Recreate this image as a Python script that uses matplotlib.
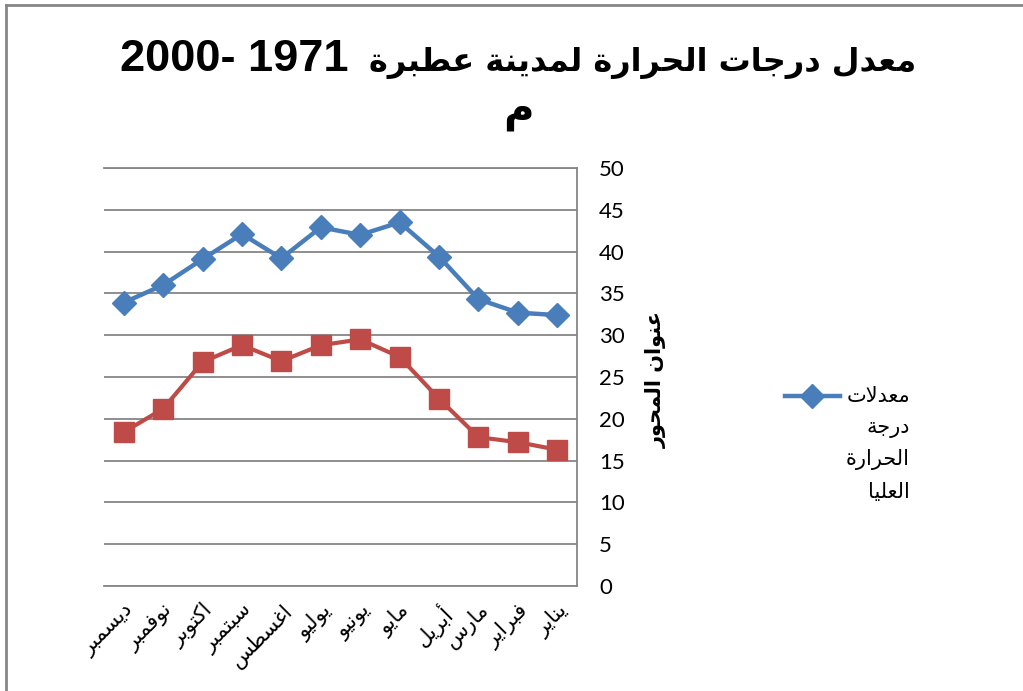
import numpy as np
import matplotlib
matplotlib.use("Agg")
import matplotlib.pyplot as plt
from matplotlib.lines import Line2D

# Data, months in logical order Jan..Dec
months = ["يناير", "فبراير", "مارس", "أبريل", "مايو", "يونيو",
          "يوليو", "اغسطس", "سبتمبر", "اكتوبر", "نوفمبر", "ديسمبر"]
max_temp = [32.4, 32.7, 34.3, 39.4, 43.5, 42.0, 42.9, 39.2, 42.1, 39.1, 36.0, 33.9]
min_temp = [16.3, 17.2, 17.8, 22.4, 27.4, 29.5, 28.8, 26.9, 28.8, 26.8, 21.2, 18.4]
max_label = "معدلات درجة الحرارة العليا"
title_words = "معدل درجات الحرارة لمدينة عطبرة"
title_years = "1971 -2000"
title_tail = "م"
axis_title = "عنوان المحور"
y_ticks = [0, 5, 10, 15, 20, 25, 30, 35, 40, 45, 50]

# --- minimal Arabic shaping (presentation forms) + right-to-left ordering ---
FORMS = {  # isolated, final, initial, medial
    'ا': ('\uFE8D', '\uFE8E', None, None),
    'أ': ('\uFE83', '\uFE84', None, None),
    'ب': ('\uFE8F', '\uFE90', '\uFE91', '\uFE92'),
    'ة': ('\uFE93', '\uFE94', None, None),
    'ت': ('\uFE95', '\uFE96', '\uFE97', '\uFE98'),
    'ج': ('\uFE9D', '\uFE9E', '\uFE9F', '\uFEA0'),
    'ح': ('\uFEA1', '\uFEA2', '\uFEA3', '\uFEA4'),
    'د': ('\uFEA9', '\uFEAA', None, None),
    'ر': ('\uFEAD', '\uFEAE', None, None),
    'س': ('\uFEB1', '\uFEB2', '\uFEB3', '\uFEB4'),
    'ط': ('\uFEC1', '\uFEC2', '\uFEC3', '\uFEC4'),
    'ع': ('\uFEC9', '\uFECA', '\uFECB', '\uFECC'),
    'غ': ('\uFECD', '\uFECE', '\uFECF', '\uFED0'),
    'ف': ('\uFED1', '\uFED2', '\uFED3', '\uFED4'),
    'ك': ('\uFED9', '\uFEDA', '\uFEDB', '\uFEDC'),
    'ل': ('\uFEDD', '\uFEDE', '\uFEDF', '\uFEE0'),
    'م': ('\uFEE1', '\uFEE2', '\uFEE3', '\uFEE4'),
    'ن': ('\uFEE5', '\uFEE6', '\uFEE7', '\uFEE8'),
    'و': ('\uFEED', '\uFEEE', None, None),
    'ي': ('\uFEF1', '\uFEF2', '\uFEF3', '\uFEF4'),
    'لا': ('\uFEFB', '\uFEFC', None, None),
    'لأ': ('\uFEF7', '\uFEF8', None, None),
}


def rtl(text):
    units = []
    i = 0
    while i < len(text):
        if text[i].isdigit():
            j = i
            while j < len(text) and text[j].isdigit():
                j += 1
            units.append(text[i:j])
            i = j
        elif text[i:i + 2] in FORMS:
            units.append(text[i:i + 2])
            i += 2
        else:
            units.append(text[i])
            i += 1
    out = []
    for k, u in enumerate(units):
        if u not in FORMS:
            out.append(u)
            continue
        prev = units[k - 1] if k > 0 else None
        nxt = units[k + 1] if k + 1 < len(units) else None
        p = prev in FORMS and FORMS[prev][2] is not None
        n = FORMS[u][2] is not None and nxt in FORMS
        f = FORMS[u]
        out.append(f[3] if p and n else f[1] if p else f[2] if n else f[0])
    return "".join(reversed(out))


arabic = ['DejaVu Sans']
latin = ['Liberation Sans', 'DejaVu Sans']
blue = '#4A7EBB'
red = '#BE4B48'
grid_c = '#868686'

fig = plt.figure(figsize=(10.23, 6.91), dpi=100)
ax = fig.add_axes([104 / 1023, 1 - 586 / 691, 473 / 1023, 418 / 691])

x = np.arange(len(months))
ax.plot(x, max_temp, color=blue, lw=3.2, marker='D', ms=12, zorder=3)
ax.plot(x, min_temp, color=red, lw=3.0, marker='s', ms=14, zorder=3)

ax.set_xlim(11.5, -0.5)
ax.set_ylim(0, 50)
ax.set_yticks(y_ticks)
ax.yaxis.tick_right()
ax.yaxis.grid(True, color=grid_c, lw=1.3)
ax.set_axisbelow(True)
ax.tick_params(axis='y', length=0, pad=16, labelsize=16)
for lab in ax.get_yticklabels():
    lab.set_fontfamily('Lato')
ax.set_xticks(x)
ax.set_xticklabels([rtl(m) for m in months], rotation=45, ha='right',
                   va='top', rotation_mode='anchor', fontsize=15,
                   family=arabic)
ax.tick_params(axis='x', length=0, pad=10)
ax.spines['left'].set_visible(False)
for s in ['right', 'top', 'bottom']:
    ax.spines[s].set_color(grid_c)
    ax.spines[s].set_linewidth(1.3)

# title: years on the left, Arabic words on the right, "م" wrapped below
fig.text(120 / 1023, 1 - 71 / 691, rtl(title_years), ha='left', va='baseline',
         fontsize=32.5, fontweight='bold', family=latin)
fig.text(916 / 1023, 1 - 71 / 691, rtl(title_words), ha='right', va='baseline',
         fontsize=23, fontweight='bold', family=arabic)
fig.text(518 / 1023, 1 - 110 / 691, rtl(title_tail), ha='center', va='center',
         fontsize=30, fontweight='bold', family=arabic)

# axis title
fig.text(656 / 1023, 1 - 379 / 691, rtl(axis_title), rotation=90,
         ha='center', va='center', fontsize=15, fontweight='bold',
         family=arabic)

# legend (only the upper series, as in the original)
fig.add_artist(Line2D([785 / 1023, 840 / 1023], [1 - 396 / 691] * 2,
                      color=blue, lw=3.2))
fig.add_artist(Line2D([812 / 1023], [1 - 396 / 691], color=blue,
                      marker='D', ms=12))
for k, word in enumerate(max_label.split()):
    fig.text(910 / 1023, 1 - (396 + 32 * k) / 691, rtl(word), ha='right',
             va='center', fontsize=15, family=arabic)

# chart-area border (left and top edges visible)
fig.add_artist(Line2D([6 / 1023, 6 / 1023], [0, 1 - 5 / 691], color=grid_c, lw=2))
fig.add_artist(Line2D([6 / 1023, 1], [1 - 5 / 691] * 2, color=grid_c, lw=2))

fig.savefig('out.png', dpi=100, facecolor='white')
